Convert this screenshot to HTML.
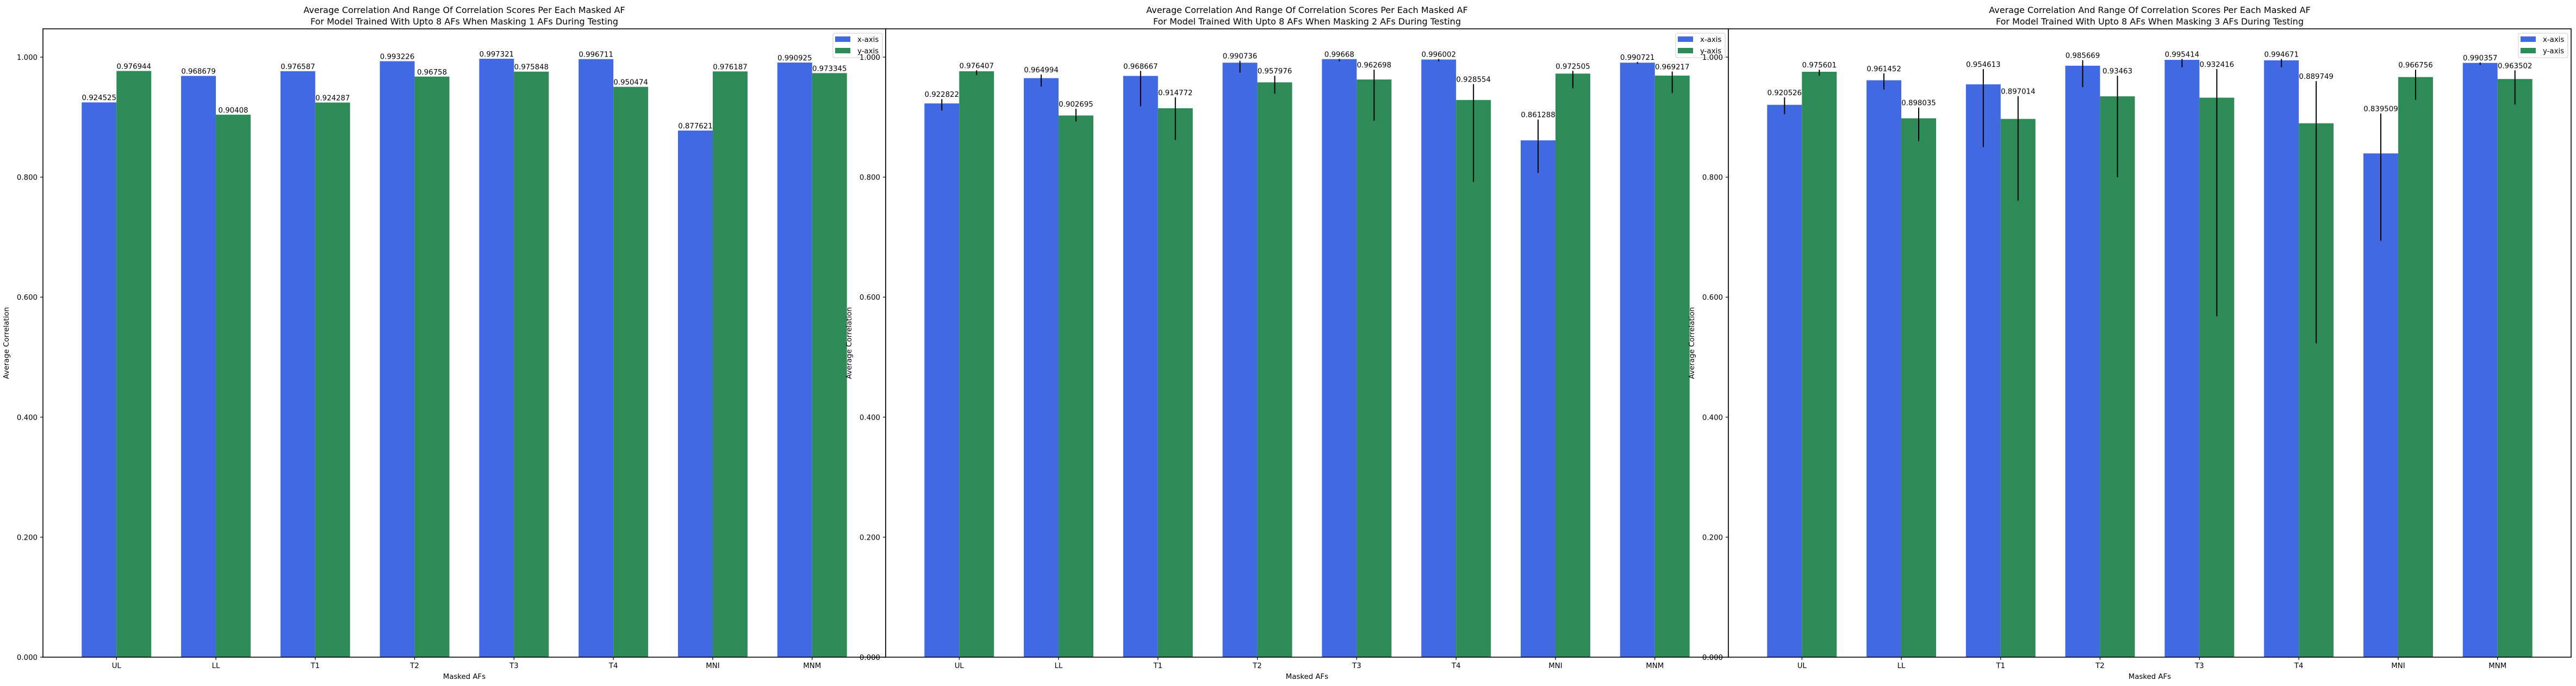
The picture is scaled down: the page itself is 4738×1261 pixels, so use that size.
<!DOCTYPE html>
<html><head><meta charset="utf-8">
<style>
html,body{margin:0;padding:0;background:#fff;}
svg{display:block;font-family:"DejaVu Sans","Liberation Sans",sans-serif;}
</style></head>
<body>
<svg id="chart" width="4738" height="1261" viewBox="0 0 4738 1261" xmlns="http://www.w3.org/2000/svg">
<rect width="4738" height="1261" fill="#fff"/>
</svg>
<script>
const categories = ["UL","LL","T1","T2","T3","T4","MNI","MNM"];
const masks = [1, 2, 3];
const xMeans1 = [0.924525,0.968679,0.976587,0.993226,0.997321,0.996711,0.877621,0.990925];
const yMeans1 = [0.976944,0.90408,0.924287,0.96758,0.975848,0.950474,0.976187,0.973345];
const xMeans2 = [0.922822,0.964994,0.968667,0.990736,0.99668,0.996002,0.861288,0.990721];
const yMeans2 = [0.976407,0.902695,0.914772,0.957976,0.962698,0.928554,0.972505,0.969217];
const xHi2 = [0.930,0.971,0.977,0.994,0.997,0.997,0.896,0.992];
const xLo2 = [0.911,0.951,0.918,0.974,0.993,0.993,0.807,0.989];
const yHi2 = [0.978,0.914,0.933,0.969,0.979,0.955,0.977,0.976];
const yLo2 = [0.970,0.893,0.862,0.939,0.894,0.792,0.948,0.940];
const xMeans3 = [0.920526,0.961452,0.954613,0.985669,0.995414,0.994671,0.839509,0.990357];
const yMeans3 = [0.975601,0.898035,0.897014,0.93463,0.932416,0.889749,0.966756,0.963502];
const xHi3 = [0.933,0.973,0.980,0.995,0.997,0.997,0.906,0.991];
const xLo3 = [0.905,0.946,0.850,0.950,0.983,0.983,0.694,0.987];
const yHi3 = [0.979,0.916,0.935,0.969,0.980,0.960,0.979,0.978];
const yLo3 = [0.969,0.860,0.761,0.800,0.568,0.523,0.929,0.921];
const yTicks = [0,0.2,0.4,0.6,0.8,1.0];
const yTickLabels = ["0.000","0.200","0.400","0.600","0.800","1.000"];

const NS = "http://www.w3.org/2000/svg";
const svg = document.getElementById('chart');
function mk(tag, attrs, parent, text){
  const e = document.createElementNS(NS, tag);
  for (const k in attrs) e.setAttribute(k, attrs[k]);
  if (text !== undefined) e.textContent = text;
  (parent || svg).appendChild(e);
  return e;
}
const BLUE = "#4169e1", GREEN = "#2e8b57";
const TOP = 53, BOT = 1208, W = 1550;
const YMAX = (BOT - TOP) / 1103;
function yS(v){ return BOT - v * 1103; }
const panels = [
  {x0:79, xm:xMeans1, ym:yMeans1, err:false},
  {x0:1629, xm:xMeans2, ym:yMeans2, xh:xHi2, xl:xLo2, yh:yHi2, yl:yLo2, err:true},
  {x0:3179, xm:xMeans3, ym:yMeans3, xh:xHi3, xl:xLo3, yh:yHi3, yl:yLo3, err:true}
];
const XMIN = -0.74, XMAX = 7.74;

panels.forEach((p, pi) => {
  const g = mk('g', {});
  
  
  const xS = v => p.x0 + (v - XMIN) / (XMAX - XMIN) * W;
  const bg = mk('rect', {x:p.x0, y:TOP, width:W, height:BOT-TOP, fill:'#fff'}, g);
  
  
  const bw = 0.35;
  const series = [
    {vals:p.xm, hi:p.xh, lo:p.xl, off:-bw/2, col:BLUE, nm:'x'},
    {vals:p.ym, hi:p.yh, lo:p.yl, off:bw/2, col:GREEN, nm:'y'}
  ];
  series.forEach(s => {
    s.vals.forEach((v, i) => {
      const cx = xS(i + s.off);
      const x1 = xS(i + s.off - bw/2), x2 = xS(i + s.off + bw/2);
      const r = mk('rect', {x:x1, y:yS(v), width:x2-x1, height:BOT-yS(v), fill:s.col}, g);
      
      
    });
  });
  series.forEach(s => {
    s.vals.forEach((v, i) => {
      const cx = xS(i + s.off);
      let topY = yS(v);
      if (p.err) {
        const l = mk('line', {x1:cx, x2:cx, y1:yS(s.hi[i]), y2:yS(s.lo[i]), stroke:'#000', 'stroke-width':2}, g);
        
        
        topY = Math.min(topY, yS(s.hi[i]));
      }
      const t = mk('text', {x:cx, y:topY - 4, 'font-size':13.3, 'text-anchor':'middle', fill:'#000'}, g, String(v));
      
      
    });
  });
  // spines
  const sp = mk('rect', {x:p.x0, y:TOP, width:W, height:BOT-TOP, fill:'none', stroke:'#000', 'stroke-width':1.6}, g);
  
  
  // y ticks
  yTicks.forEach((v, k) => {
    const y = yS(v);
    mk('line', {x1:p.x0-5, x2:p.x0, y1:y, y2:y, stroke:'#000', 'stroke-width':1.2}, g);
    const t = mk('text', {x:p.x0-10, y:y+5, 'font-size':13.3, 'text-anchor':'end'}, g, yTickLabels[k]);
    
    
  });
  categories.forEach((c, i) => {
    const x = xS(i);
    mk('line', {x1:x, x2:x, y1:BOT, y2:BOT+5, stroke:'#000', 'stroke-width':1.2}, g);
    const t = mk('text', {x:x, y:1228, 'font-size':13.3, 'text-anchor':'middle'}, g, c);
    
    
  });
  const xl = mk('text', {x:p.x0+W/2, y:1248, 'font-size':13.3, 'text-anchor':'middle'}, g, 'Masked AFs');
  
  
  const yx = p.x0 - 63, yy = (TOP+BOT)/2;
  const yl = mk('text', {x:yx, y:yy, 'font-size':13.3, 'text-anchor':'middle', transform:'rotate(-90 '+yx+' '+yy+')'}, g, 'Average Correlation');
  
  
  const t1 = mk('text', {x:p.x0+W/2, y:24, 'font-size':16, 'text-anchor':'middle'}, g, 'Average Correlation And Range Of Correlation Scores Per Each Masked AF');
  
  
  const t2 = mk('text', {x:p.x0+W/2, y:45, 'font-size':16, 'text-anchor':'middle'}, g, 'For Model Trained With Upto 8 AFs When Masking ' + masks[pi] + ' AFs During Testing');
  
  
  // legend
  const lg = mk('g', {}, g);
  
  
  const lx = p.x0 + W - 97;
  mk('rect', {x:lx, y:61, width:91, height:45, rx:3, fill:'#fff', 'fill-opacity':0.8, stroke:'#ccc', 'stroke-width':1}, lg);
  [['x-axis',BLUE],['y-axis',GREEN]].forEach((e, k) => {
    const ent = mk('g', {}, lg);
    
    
    mk('rect', {x:lx+4, y:67+k*21, width:28, height:10, fill:e[1]}, ent);
    mk('text', {x:lx+45, y:77+k*21, 'font-size':13.3}, ent, e[0]);
  });
});
</script>
</body></html>
